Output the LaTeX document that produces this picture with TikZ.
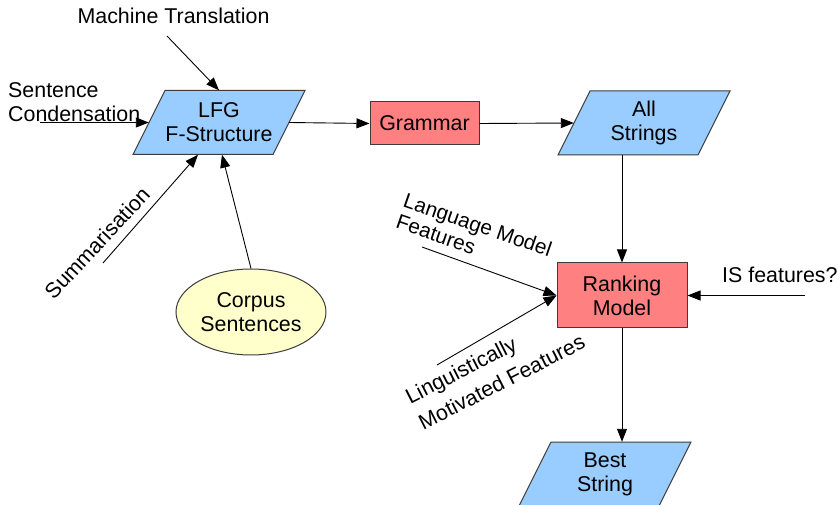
\documentclass[tikz,border=0pt]{standalone}
\usepackage{fontspec}
\setmainfont{Liberation Sans}
\usetikzlibrary{arrows.meta,shapes.geometric,backgrounds,calc}
\definecolor{pblue}{HTML}{99CCFF}
\definecolor{pred}{HTML}{FF8080}
\definecolor{pyellow}{HTML}{FFFFCC}
\definecolor{edgegray}{HTML}{3C3C3C}
\begin{document}
\begin{tikzpicture}[x=1pt,y=-1pt,
 every node/.style={font=\fontsize{21.4}{24}\selectfont, inner sep=0pt, align=center},
 pgramtext/.style={minimum width=140pt, minimum height=64pt},
 pgramfill/.style={fill=pblue, draw=edgegray, line width=1pt},
 redbox/.style={rectangle, fill=pred, draw=edgegray, line width=1pt},
 corpus/.style={ellipse, fill=pyellow, draw=edgegray, line width=1pt, minimum width=150pt, minimum height=86pt},
 lbl/.style={align=left},
 conn/.style={-{Triangle[length=13pt,width=10pt]}, line width=0.9pt},
]
\useasboundingbox (0,0) rectangle (839,505);

% main nodes
\node[pgramtext] (LFG) at (219,122.5) {LFG\\F-Structure};
\node[redbox, minimum width=109pt, minimum height=43pt] (Grammar) at (424.5,123.5) {Grammar};
\node[pgramtext] (AllStr) at (644,123) {All\\Strings};
\node[redbox, minimum width=130pt, minimum height=65pt] (Rank) at (622,295.5) {Ranking\\Model};
\node[pgramtext] (Best) at (605,474) {Best\\String};
\node[corpus] (Corpus) at (251,312) {Corpus\\Sentences};

\begin{scope}[on background layer]
\foreach \n in {LFG,AllStr,Best}
  \draw[pgramfill] ([shift={(-54,-32)}]\n.center) -- ([shift={(86,-32)}]\n.center) -- ([shift={(54,32)}]\n.center) -- ([shift={(-86,32)}]\n.center) -- cycle;
\end{scope}

% labels
\node[anchor=base] (MT) at (173.5,24) {Machine Translation};
\node[lbl, anchor=north west] (SC) at (8,82) {Sentence\\Condensation};
\node[rotate=47] (Sum) at (97,243) {Summarisation};
\node[lbl, anchor=north west, rotate=-19, font=\fontsize{20.8}{22.5}\selectfont] (LMF) at (407,192) {Language Model\\Features};
\node[lbl, anchor=north west, rotate=27, font=\fontsize{21.4}{29}\selectfont] (LingF) at (403,390.5) {Linguistically\\Motivated Features};
\node[anchor=base west] (IS) at (722,283) {IS features?};

% free ends
\coordinate (mtE) at (167,36);
\coordinate (scE) at (40,122.5);
\coordinate (sumE) at (103,263);
\coordinate (lmE) at (422,247);
\coordinate (lingE) at (437,365);
\coordinate (isE) at (805,295.5);

% connectors
\draw[conn] (mtE) -- (LFG.north);
\draw[conn] (scE) -- (LFG.west);
\draw[conn] (sumE) -- ([xshift=-21pt]LFG.south);
\draw[conn] (Corpus.north) -- ([xshift=3pt]LFG.south);
\draw[conn] (LFG.east) -- (Grammar.west);
\draw[conn] (Grammar.east) -- (AllStr.west);
\draw[conn] (Rank.north |- AllStr.south) -- (Rank.north);
\draw[conn] (lmE) -- (Rank.west);
\draw[conn] (lingE) -- (Rank.west);
\draw[conn] (isE) -- (Rank.east);
\draw[conn] (Rank.south) -- (Rank.south |- Best.north);
\end{tikzpicture}
\end{document}
